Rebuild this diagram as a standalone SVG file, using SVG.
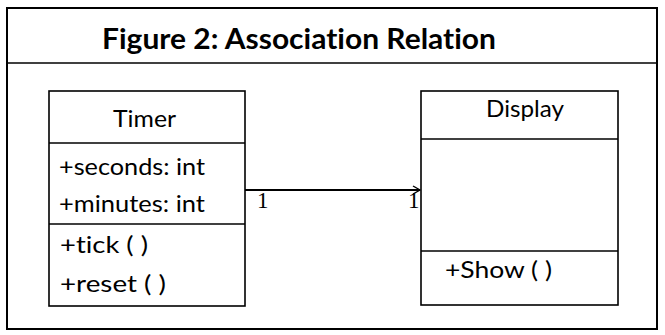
<svg xmlns="http://www.w3.org/2000/svg" width="665" height="335" viewBox="0 0 665 335">
<style>
.frame{fill:#fff;stroke:#000;stroke-width:2}
.box{fill:#fff;stroke:#000;stroke-width:1.6}
.sep{stroke:#000;stroke-width:1.6}
text{font-variant-ligatures:none;font-feature-settings:"liga" 0}
.t{font-family:Lato,"Open Sans",sans-serif;font-size:23px;fill:#000}
.title{font-family:Lato,"Open Sans",sans-serif;font-size:28px;font-weight:bold;fill:#000}
.m{font-family:"Liberation Serif",serif;font-size:23px;fill:#000}
</style>
<defs>
<marker id="open" markerWidth="10" markerHeight="10" refX="8" refY="5" orient="auto" markerUnits="userSpaceOnUse">
<path d="M1,1 L8,5 L1,9" fill="none" stroke="#000" stroke-width="1.4"/>
</marker>
</defs>
<rect class="frame" x="7" y="8" width="650" height="321"/>
<line class="sep" x1="7" y1="63" x2="657" y2="63" stroke-width="2"/>
<text class="title" x="102" y="49" textLength="394" lengthAdjust="spacingAndGlyphs">Figure 2: Association Relation</text>
<g id="connectors">
<line x1="245" y1="190" x2="420" y2="190" stroke="#000" stroke-width="1.8" marker-end="url(#open)"/>
<text class="m" x="257" y="208">1</text>
<text class="m" x="408" y="208">1</text>
</g>
<g id="timer">
<rect class="box" x="49" y="91" width="196" height="215"/>
<line class="sep" x1="49" y1="143" x2="245" y2="143"/>
<line class="sep" x1="49" y1="224" x2="245" y2="224"/>
<text class="t" x="113" y="127" textLength="63" lengthAdjust="spacingAndGlyphs">Timer</text>
<text class="t" x="59" y="175" textLength="146" lengthAdjust="spacingAndGlyphs">+seconds: int</text>
<text class="t" x="59" y="212" textLength="146" lengthAdjust="spacingAndGlyphs">+minutes: int</text>
<text class="t" x="60" y="253" textLength="88" lengthAdjust="spacingAndGlyphs">+tick ( )</text>
<text class="t" x="60" y="292" textLength="106" lengthAdjust="spacingAndGlyphs">+reset ( )</text>
</g>
<g id="display">
<rect class="box" x="421" y="91" width="197" height="214"/>
<line class="sep" x1="421" y1="139" x2="618" y2="139"/>
<line class="sep" x1="421" y1="251" x2="618" y2="251"/>
<text class="t" x="486" y="117" textLength="78" lengthAdjust="spacingAndGlyphs">Display</text>
<text class="t" x="445" y="278" textLength="107" lengthAdjust="spacingAndGlyphs">+Show ( )</text>
</g>
</svg>
